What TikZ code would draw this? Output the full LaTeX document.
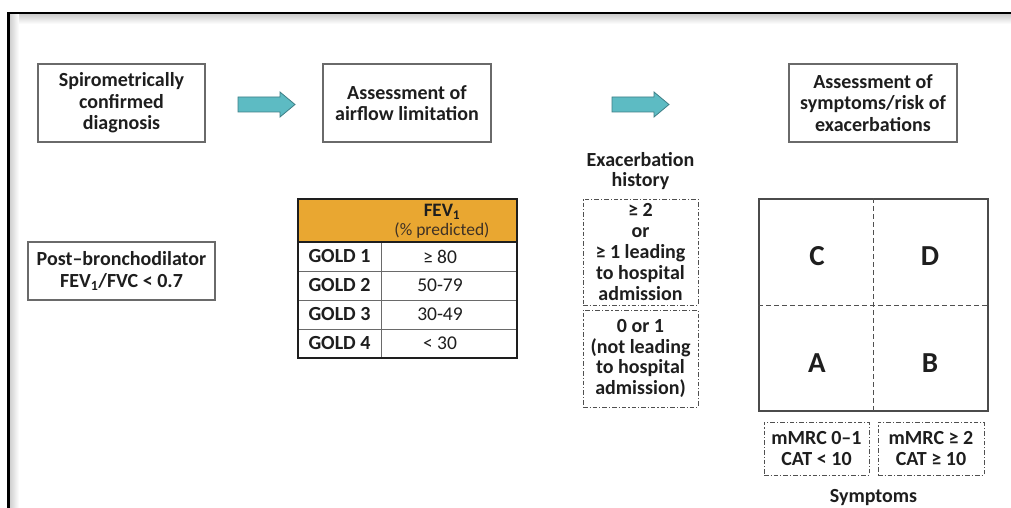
\documentclass[tikz,border=0pt]{standalone}
\usepackage{fontspec}
\setmainfont{Carlito}
\definecolor{ink}{HTML}{1E1E1E}
\definecolor{boxline}{HTML}{6A6A6A}
\definecolor{arrowfill}{HTML}{5DBBC3}
\definecolor{arrowline}{HTML}{3E7F86}
\definecolor{goldhdr}{HTML}{E9A731}
\definecolor{dashcol}{HTML}{505050}
\tikzset{
  stepbox/.style={draw=boxline, line width=1.2pt, fill=white, align=center, text=ink,
    font=\bfseries\fontsize{20}{21.5}\selectfont, inner sep=0pt},
  plain/.style={align=center, text=ink, font=\bfseries\fontsize{20}{20.5}\selectfont, inner sep=0pt},
  dashdotbox/.style={draw=dashcol, line width=1pt, dash pattern=on 4.5pt off 2pt on 1.2pt off 2pt,
    align=center, text=ink, font=\bfseries\fontsize{20}{20.8}\selectfont, inner sep=0pt},
  blockarrow/.style={fill=arrowfill, draw=arrowline, line width=0.8pt},
  cell/.style={inner sep=0pt, text=ink},
  letter/.style={text=ink, font=\bfseries\fontsize{29}{30}\selectfont, inner sep=0pt},
  gridmid/.style={draw=dashcol, line width=1pt, dash pattern=on 5pt off 3pt},
}
\begin{document}
\begin{tikzpicture}[x=1pt,y=-1pt]
\useasboundingbox (0,0) rectangle (1011,508);
\fill[white] (0,0) rectangle (1011,508);
% frame with soft inner shadow
\shade[top color=gray!40, bottom color=white] (9,14) rectangle (1011,24);
\shade[left color=gray!40, right color=white] (9,14) rectangle (19,508);
\draw[line width=2.6pt, black] (8.5,508) |- (1011,13);

% top row boxes
\node[stepbox, minimum width=167pt, minimum height=78pt] (diag) at (121.5,103)
  {Spirometrically\\confirmed\\diagnosis};
\node[stepbox, minimum width=168pt, minimum height=78pt] (airflow) at (407,103)
  {Assessment of\\airflow limitation};
\node[stepbox, minimum width=168pt, minimum height=78pt] (risk) at (873,103)
  {Assessment of\\symptoms/risk of\\exacerbations};

% block arrows
\draw[blockarrow] (238,97) -- (280,97) -- (280,92) -- (295,104.5) -- (280,117) -- (280,112) -- (238,112) -- cycle;
\draw[blockarrow] (612,97) -- (654,97) -- (654,92) -- (669,104.5) -- (654,117) -- (654,112) -- (612,112) -- cycle;

% post-bronchodilator box
\node[stepbox, minimum width=187pt, minimum height=58pt] (post) at (121.5,271)
  {Post--bronchodilator\\FEV\textsubscript{1}/FVC < 0.7};

% FEV1 table
\node[cell, fill=goldhdr, minimum width=219pt, minimum height=43pt] (hdr) at (407.5,220.5) {};
\node[cell, font=\bfseries\fontsize{19}{20}\selectfont] (fev) at (442,212) {FEV\textsubscript{1}};
\node[cell, font=\fontsize{17.5}{19}\selectfont, text=ink!80!brown] (pred) at (442,230.5) {(\% predicted)};
\foreach \i/\lab/\val/\yc in {1/GOLD 1/≥ 80/256.5, 2/GOLD 2/50-79/285.5, 3/GOLD 3/30-49/314.5, 4/GOLD 4/< 30/343.5}{
  \node[cell, font=\bfseries\fontsize{20}{21}\selectfont] (g\i) at (339.5,\yc) {\lab};
  \node[cell, font=\fontsize{19.5}{21}\selectfont] (v\i) at (440,\yc) {\val};
}
\draw[boxline, line width=0.8pt] (298,271) -- (517,271) (298,300) -- (517,300) (298,329) -- (517,329);
\draw[boxline, line width=0.8pt] (381,242) -- (381,358);
\draw[ink, line width=1.3pt] (298,242) -- (517,242);
\draw[ink, line width=1.5pt] (298,199) rectangle (517,358);

% exacerbation history
\node[plain] (exhist) at (640.5,171) {Exacerbation\\history};
\node[dashdotbox, minimum width=115pt, minimum height=106pt] (exhigh) at (640.5,252)
  {≥ 2\\or\\≥ 1 leading\\to hospital\\admission};
\node[dashdotbox, minimum width=115pt, minimum height=97pt] (exlow) at (640.5,358.5)
  {0 or 1\\(not leading\\to hospital\\admission)};

% ABCD grid
\node[draw=ink!80, line width=1.2pt, minimum width=229pt, minimum height=212pt, inner sep=0pt] (grid) at (873.5,305) {};
\draw[gridmid] (grid.north) -- (grid.south);
\draw[gridmid] (grid.west) -- (grid.east);
\node[letter] (C) at (817,256) {C};
\node[letter] (D) at (930,256) {D};
\node[letter] (A) at (817,363) {A};
\node[letter] (B) at (930,363) {B};

% symptom boxes
\node[dashdotbox, minimum width=105pt, minimum height=53pt] (symlow) at (816.5,448.5)
  {mMRC 0--1\\CAT < 10};
\node[dashdotbox, minimum width=106pt, minimum height=53pt] (symhigh) at (931,448.5)
  {mMRC ≥ 2\\CAT ≥ 10};
\node[plain] (symptoms) at (873.5,498) {Symptoms};
\end{tikzpicture}
\end{document}
